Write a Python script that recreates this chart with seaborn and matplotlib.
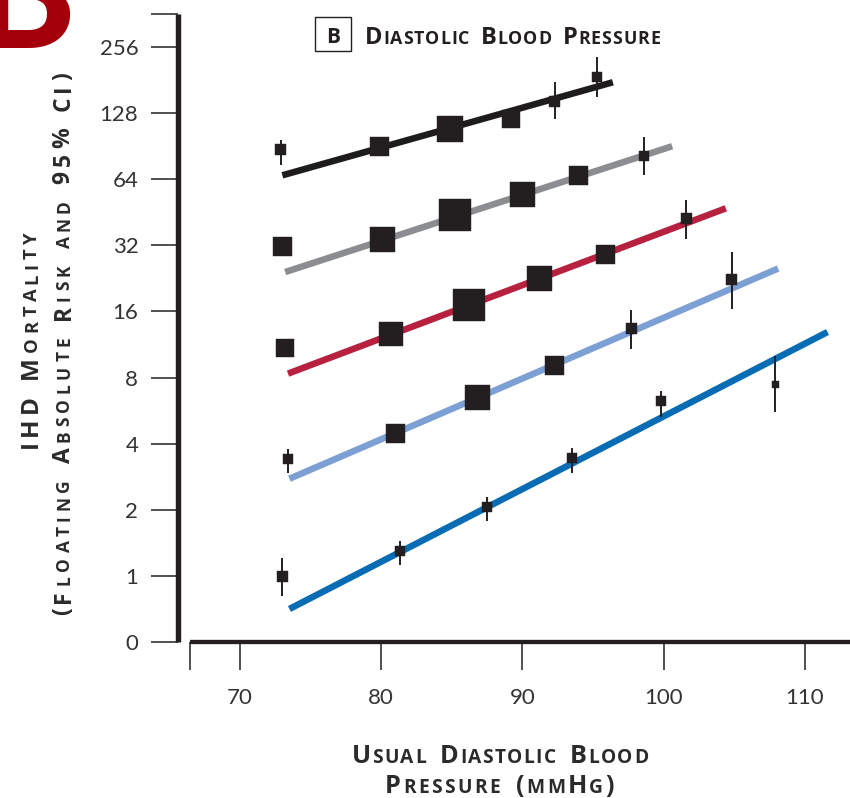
import numpy as np
import pandas as pd
import matplotlib
matplotlib.use("Agg")
import matplotlib.pyplot as plt
from matplotlib.patches import Rectangle
from matplotlib.ticker import NullLocator
from matplotlib.transforms import IdentityTransform
import seaborn as sns

# ---------------- data ----------------
age_groups = ["80-89", "70-79", "60-69", "50-59", "40-49"]

# usual diastolic blood pressure (mmHg) per group
dbp_80_89 = [72.9, 79.9, 84.9, 89.2, 92.3, 95.3]
dbp_70_79 = [73.0, 80.1, 85.2, 90.0, 94.0, 98.6]
dbp_60_69 = [73.2, 80.7, 86.2, 91.2, 95.9, 101.6]
dbp_50_59 = [73.4, 81.0, 86.8, 92.3, 97.7, 104.8]
dbp_40_49 = [73.0, 81.3, 87.5, 93.5, 99.8, 107.9]

# IHD mortality, floating absolute risk
risk_80_89 = [87, 90, 108, 121, 144, 187]
risk_70_79 = [31.6, 34.0, 43.8, 54.6, 66.7, 81.6]
risk_60_69 = [10.9, 12.7, 17.2, 22.6, 29.1, 42.5]
risk_50_59 = [3.42, 4.46, 6.49, 9.07, 13.4, 22.4]
risk_40_49 = [0.99, 1.30, 2.05, 3.46, 6.23, 7.43]

# 95% CI bounds
ci_lo_80_89 = [74, 85, 102, 114, 120, 151]
ci_hi_80_89 = [97, 95, 114, 128, 177, 230]
ci_lo_70_79 = [30.0, 32.0, 41.5, 51.5, 63.0, 67.0]
ci_hi_70_79 = [33.3, 36.0, 46.0, 58.0, 71.0, 100.0]
ci_lo_60_69 = [10.3, 12.0, 16.3, 21.4, 27.5, 34.1]
ci_hi_60_69 = [11.5, 13.4, 18.1, 23.8, 30.8, 51.3]
ci_lo_50_59 = [2.95, 4.20, 6.10, 8.60, 10.8, 16.5]
ci_hi_50_59 = [3.79, 4.70, 6.90, 9.60, 16.3, 29.7]
ci_lo_40_49 = [0.81, 1.12, 1.78, 2.95, 5.31, 5.60]
ci_hi_40_49 = [1.21, 1.44, 2.29, 3.83, 6.98, 9.98]

# fitted trend lines (start / end)
fit_x_start = [73.0, 73.2, 73.4, 73.5, 73.5]
fit_x_end = [96.4, 100.6, 104.4, 108.1, 111.6]
fit_y_start = [66.7, 24.2, 8.34, 2.77, 0.707]
fit_y_end = [177, 90.5, 47.2, 25.1, 12.9]

y_ticks = [0.5, 1, 2, 4, 8, 16, 32, 64, 128, 256]
y_tick_labels = ["0", "1", "2", "4", "8", "16", "32", "64", "128", "256"]
x_ticks = [70, 80, 90, 100, 110]
x_tick_labels = ["70", "80", "90", "100", "110"]

# ---------------- styling ----------------
line_colors = ["#1d1b1c", "#8b8d90", "#b8203f", "#7c9fd4", "#086cb4"]
# square side (px), larger boxes = more information
box_side = [
    [11, 19, 26, 18, 11, 10],
    [19, 25, 32, 25, 19, 10],
    [18, 24, 32, 25, 19, 11],
    [10, 19, 25, 19, 11, 11],
    [11, 10, 10, 10, 10, 7],
]
INK = "#231f20"
TEXT = "#333333"
LABEL = "#2b2b2b"
LABEL_FONT = ["Open Sans", "DejaVu Sans"]
W, H, DPI = 850, 798, 100
PX = IdentityTransform()
X_MIN, X_MAX = 66.46, 113.19
Y_MIN, Y_MAX = 0.5, 2 ** 8.5

dbp = [dbp_80_89, dbp_70_79, dbp_60_69, dbp_50_59, dbp_40_49]
risk = [risk_80_89, risk_70_79, risk_60_69, risk_50_59, risk_40_49]
ci_lo = [ci_lo_80_89, ci_lo_70_79, ci_lo_60_69, ci_lo_50_59, ci_lo_40_49]
ci_hi = [ci_hi_80_89, ci_hi_70_79, ci_hi_60_69, ci_hi_50_59, ci_hi_40_49]

points = pd.concat(
    [
        pd.DataFrame({"group": g, "dbp": x, "risk": y, "lo": lo, "hi": hi, "side": s})
        for g, x, y, lo, hi, s in zip(age_groups, dbp, risk, ci_lo, ci_hi, box_side)
    ],
    ignore_index=True,
)
lines = pd.DataFrame(
    {
        "group": age_groups * 2,
        "dbp": fit_x_start + fit_x_end,
        "risk": fit_y_start + fit_y_end,
        "order": [0] * 5 + [1] * 5,
    }
).sort_values(["group", "order"])

sns.set_theme(style="white")
plt.rcParams["font.family"] = ["Lato", "DejaVu Sans"]

fig = plt.figure(figsize=(W / DPI, H / DPI), dpi=DPI)
ax = fig.add_axes([190 / W, 1 - 642 / H, 660 / W, (642 - 14) / H])
ax.set_yscale("log", base=2)
ax.set_xlim(X_MIN, X_MAX)
ax.set_ylim(Y_MIN, Y_MAX)

sns.lineplot(
    data=lines, x="dbp", y="risk", hue="group",
    palette=dict(zip(age_groups, line_colors)), estimator=None, sort=False,
    lw=4.7, solid_capstyle="butt", legend=False, ax=ax, zorder=2,
)
ax.vlines(points["dbp"], points["lo"], points["hi"], colors=INK, lw=1.4, zorder=3)
sides = sorted(points["side"].unique())
sns.scatterplot(
    data=points, x="dbp", y="risk", size="side",
    sizes={s: (s * 0.72) ** 2 for s in sides}, marker="s",
    color=INK, edgecolor=INK, linewidth=0.3, legend=False, ax=ax, zorder=4,
)

# axes and ticks
for side in ("top", "right"):
    ax.spines[side].set_visible(False)
ax.spines["left"].set_position(("outward", 12 * 0.72))
ax.spines["left"].set_linewidth(3.9)
ax.spines["bottom"].set_linewidth(3.1)
for side in ("left", "bottom"):
    ax.spines[side].set_color(INK)
    ax.spines[side].set_capstyle("butt")

ax.yaxis.set_minor_locator(NullLocator())
ax.xaxis.set_minor_locator(NullLocator())
ax.set_yticks(y_ticks + [Y_MAX])
ax.set_yticklabels(y_tick_labels + [""])
ax.set_xticks([X_MIN] + x_ticks)
ax.set_xticklabels([""] + x_tick_labels)
ax.tick_params(axis="y", direction="out", length=19.6, width=1.1, pad=9,
               color=INK, labelsize=16, labelcolor=TEXT, left=True)
ax.tick_params(axis="x", direction="out", length=20, width=1.1, pad=13,
               color=INK, labelsize=16, labelcolor=TEXT, bottom=True)
ax.set_xlabel("")
ax.set_ylabel("")
ax.grid(False)


def small_caps(text, x, y, big, small, length, rotation=0, color=INK, space=0.3):
    """Draw text in small caps starting at pixel (x, y) along a given length."""
    renderer = fig.canvas.get_renderer()
    items = []
    for ch in text:
        if ch == " ":
            items.append(None)
            continue
        size = small if ch.islower() else big
        t = fig.text(0, 0, ch.upper(), fontsize=size, fontweight="bold",
                     family=LABEL_FONT, color=color, transform=PX,
                     ha="left", va="baseline")
        items.append((t, t.get_window_extent(renderer).width))
    sp = space * big / 72 * DPI
    n_sp = sum(1 for it in items if it is None)
    ink = sum(it[1] for it in items if it is not None)
    track = (length - ink - n_sp * sp) / (len(items) - 1)
    pos = 0.0
    for it in items:
        if it is None:
            pos += sp + track
            continue
        t, w = it
        if rotation:
            t.set_rotation(90)
            t.set_rotation_mode("anchor")
            t.set_position((x, y + pos))
        else:
            t.set_position((x + pos, y))
        pos += w + track


# panel title
fig.add_artist(Rectangle((315, H - 51), 36, 34, transform=PX, fill=False,
                         edgecolor=INK, lw=1.0))
fig.text(333, H - 43.3, "B", transform=PX, ha="center", va="baseline",
         fontsize=15, fontweight="bold", family=LABEL_FONT, color=INK)
small_caps("Diastolic Blood Pressure", 365, H - 44.5, 17, 12.8, 295, space=0.4)

# axis titles
small_caps("Usual Diastolic Blood", 352, H - 763, 18.3, 13.8, 296, color=LABEL, space=0.45)
small_caps("Pressure (mmHg)", 385, H - 793, 18.3, 13.8, 229, color=LABEL, space=0.45)
small_caps("IHD Mortality", 37, H - 448, 17.5, 13.2, 216, rotation=90, color=LABEL)
small_caps("(Floating Absolute Risk and 95% CI)", 69.5, H - 615, 16.5, 12.5, 543,
           rotation=90, color=LABEL)

# panel letter in the corner
fig.text(75, H - 48, "B", transform=PX, ha="right", va="baseline",
         fontsize=112, fontweight="black", color="#a3000b")

fig.savefig("out.png", dpi=DPI)
